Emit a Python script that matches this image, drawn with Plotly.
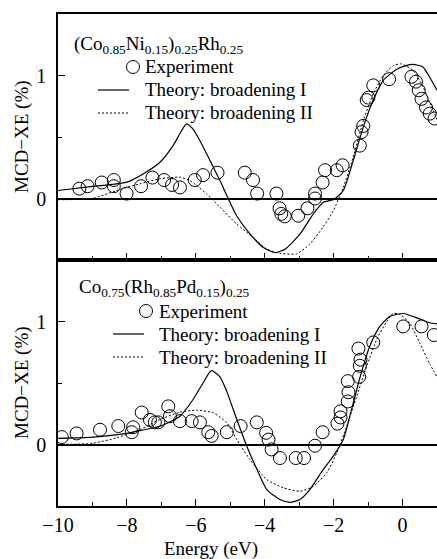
import plotly.graph_objects as go
from plotly.subplots import make_subplots

# ---------------- data ----------------
top_exp_x = [-9.38, -9.14, -8.73, -8.38, -8.38, -8.01, -7.59, -7.26, -6.92, -6.69, -6.46, -6.03, -5.79,
             -5.37, -4.58, -4.34, -4.22, -3.66, -3.57, -3.52, -3.42, -3.03, -2.76, -2.54, -2.54, -2.32,
             -2.25, -1.91, -1.74, -1.24, -1.19, -1.14, -1.04, -0.99, -0.85, -0.39, 0.26, 0.39, 0.47,
             0.55, 0.68, 0.79, 0.93]
top_exp_y = [0.08, 0.10, 0.13, 0.15, 0.10, 0.04, 0.10, 0.17, 0.15, 0.11, 0.09, 0.15, 0.19,
             0.21, 0.21, 0.15, 0.04, 0.04, -0.08, -0.125, -0.145, -0.14, -0.08, 0.00, 0.04, 0.13,
             0.23, 0.23, 0.27, 0.43, 0.54, 0.59, 0.80, 0.82, 0.92, 0.97, 0.99, 0.95, 0.88,
             0.81, 0.74, 0.69, 0.65]

top_th1_x = [-10, -9, -8, -7.53, -7.04, -6.66, -6.41, -6.27, -6.1, -5.88, -5.59, -5.30, -5.06, -4.82,
             -4.43, -4.05, -3.70, -3.40, -2.98, -2.59, -2.30, -2.01, -1.72, -1.43, -1.14, -0.85,
             -0.56, -0.17, 0.10, 0.30, 0.59, 0.78, 1.0]
top_th1_y = [0.065, 0.098, 0.133, 0.20, 0.295, 0.43, 0.553, 0.607, 0.57, 0.47, 0.31, 0.146, 0.0, -0.138,
             -0.287, -0.396, -0.44, -0.41, -0.29, -0.125, -0.03, -0.01, 0.065, 0.31, 0.58, 0.80,
             0.96, 1.05, 1.08, 1.09, 1.07, 0.99, 0.88]

top_th2_x = [-10, -9, -8.3, -7.62, -7.04, -6.46, -6.17, -5.98, -5.69, -5.30, -4.82, -4.34, -3.95,
             -3.57, -3.08, -2.69, -2.30, -2.01, -1.72, -1.43, -1.14, -0.85, -0.56, -0.27, -0.05,
             0.31, 0.60, 0.89, 1.0]
top_th2_y = [-0.01, 0.0, 0.065, 0.12, 0.16, 0.173, 0.146, 0.106, 0.038, -0.07, -0.206, -0.315, -0.41,
             -0.445, -0.45, -0.37, -0.23, -0.10, 0.09, 0.34, 0.63, 0.85, 1.0, 1.08, 1.095,
             1.04, 0.905, 0.715, 0.64]

bot_exp_x = [-9.89, -9.46, -8.78, -8.25, -7.82, -7.86, -7.57, -7.33, -7.19, -7.09, -6.80, -6.75, -6.46,
             -6.12, -5.88, -5.64, -5.54, -5.10, -4.70, -4.23, -3.96, -3.89, -3.80, -3.56, -3.10,
             -2.86, -2.54, -2.32, -1.89, -1.80, -1.80, -1.59, -1.57, -1.59, -1.26, -1.24, -1.22,
             -1.28, -0.85, 0.02, 0.55, 0.91]
bot_exp_y = [0.06, 0.09, 0.12, 0.15, 0.14, 0.10, 0.26, 0.20, 0.18, 0.18, 0.31, 0.23, 0.19,
             0.19, 0.18, 0.10, 0.07, 0.10, 0.15, 0.18, 0.095, 0.04, -0.04, -0.11, -0.11,
             -0.11, -0.01, 0.10, 0.17, 0.22, 0.27, 0.35, 0.425, 0.515, 0.55, 0.64, 0.69,
             0.78, 0.83, 0.96, 0.96, 0.89]

bot_th1_x = [-10, -9, -8, -7.5, -7.04, -6.46, -6.08, -5.79, -5.55, -5.30, -5.10, -4.81, -4.52, -4.23,
             -3.94, -3.56, -3.27, -2.98, -2.69, -2.30, -2.01, -1.72, -1.53, -1.33, -1.14, -0.95,
             -0.66, -0.37, 0.02, 0.50, 0.79, 1.0]
bot_th1_y = [0.05, 0.06, 0.09, 0.12, 0.149, 0.23, 0.366, 0.50, 0.60, 0.55, 0.43, 0.203, -0.014, -0.20,
             -0.366, -0.447, -0.47, -0.447, -0.366, -0.203, -0.095, 0.04, 0.23, 0.447, 0.637, 0.80,
             0.96, 1.04, 1.065, 1.02, 0.99, 0.98]

bot_th2_x = [-10, -9, -8.3, -7.62, -7.04, -6.46, -5.98, -5.50, -5.10, -4.81, -4.43, -3.94, -3.46,
             -2.98, -2.59, -2.20, -1.91, -1.62, -1.33, -1.04, -0.75, -0.46, -0.28, -0.09, 0.20,
             0.49, 0.78, 1.0]
bot_th2_y = [0.0, 0.01, 0.054, 0.122, 0.203, 0.263, 0.279, 0.258, 0.176, 0.04, -0.122, -0.285, -0.352,
             -0.38, -0.34, -0.23, -0.068, 0.149, 0.393, 0.637, 0.854, 1.0, 1.065, 1.06, 0.99,
             0.83, 0.66, 0.55]

series_names = ["Experiment", "Theory: broadening I", "Theory: broadening II"]
top_label = "(Co<sub>0.85</sub>Ni<sub>0.15</sub>)<sub>0.25</sub>Rh<sub>0.25</sub>"
bot_label = "Co<sub>0.75</sub>(Rh<sub>0.85</sub>Pd<sub>0.15</sub>)<sub>0.25</sub>"
y_title = "MCD\u2212XE (%)"
x_title = "Energy (eV)"
x_tick_vals = [-10, -8, -6, -4, -2, 0]
y_tick_vals = [0, 1]

# ---------------- figure ----------------
FONT = "Liberation Serif"
W, H = 437, 559
ML, MR, MT, MB = 58, 0, 14, 53
PW, PH = W - ML - MR, H - MT - MB


def px_x(px):
    return (px - ML) / PW


def px_y(py):
    return (H - MB - py) / PH


fig = make_subplots(rows=2, cols=1, shared_xaxes=True, vertical_spacing=0)

marker_style = dict(symbol="circle-open", size=13, color="black", line=dict(width=1, color="black"))
solid_style = dict(color="black", width=1.2, shape="spline", smoothing=0.6)
dot_style = dict(color="black", width=1, dash="2px,2px", shape="spline", smoothing=0.6)

panels = [
    (1, top_exp_x, top_exp_y, top_th1_x, top_th1_y, top_th2_x, top_th2_y),
    (2, bot_exp_x, bot_exp_y, bot_th1_x, bot_th1_y, bot_th2_x, bot_th2_y),
]
for row, ex, ey, t1x, t1y, t2x, t2y in panels:
    fig.add_trace(go.Scatter(x=ex, y=ey, mode="markers", name=series_names[0],
                             marker=marker_style, showlegend=False), row=row, col=1)
    fig.add_trace(go.Scatter(x=t1x, y=t1y, mode="lines", name=series_names[1],
                             line=solid_style, showlegend=False), row=row, col=1)
    fig.add_trace(go.Scatter(x=t2x, y=t2y, mode="lines", name=series_names[2],
                             line=dot_style, showlegend=False), row=row, col=1)

axis_common = dict(showline=True, linecolor="black", linewidth=1.5, ticks="inside",
                   tickcolor="black", tickwidth=1.2, ticklen=7, showgrid=False,
                   tickfont=dict(family=FONT, size=20, color="black"))

for row in (1, 2):
    fig.update_xaxes(range=[-10, 1.0], tickvals=x_tick_vals, mirror=True,
                     minor=dict(ticks="inside", dtick=1, tick0=0, ticklen=4, tickcolor="black",
                                tickwidth=1.2),
                     showticklabels=(row == 2), ticklabelstandoff=0, zeroline=False,
                     row=row, col=1, **axis_common)
    fig.update_yaxes(range=[-0.5, 1.5], tickvals=y_tick_vals, mirror=False,
                     minor=dict(ticks="inside", dtick=0.5, tick0=0, ticklen=4, tickcolor="black",
                                tickwidth=1.2),
                     zeroline=True, zerolinecolor="black", zerolinewidth=1.5,
                     ticklabelstandoff=6,
                     row=row, col=1, **axis_common)

txt_font = dict(family=FONT, size=19, color="black")
# y-axis titles, one centred on each panel
for yc in (0.75, 0.25):
    fig.add_annotation(text=y_title, xref="paper", yref="paper", x=px_x(22), y=yc,
                       xanchor="center", yanchor="middle", textangle=-90, showarrow=False,
                       font=txt_font)
fig.add_annotation(text=top_label, xref="paper", yref="paper", x=0.036, y=0.937,
                   xanchor="left", yanchor="middle", showarrow=False, font=txt_font)
fig.add_annotation(text=bot_label, xref="paper", yref="paper", x=0.050, y=px_y(288),
                   xanchor="left", yanchor="middle", showarrow=False, font=txt_font)
fig.add_annotation(text=x_title, xref="paper", yref="paper", x=0.404, y=px_y(549),
                   xanchor="center", yanchor="middle", showarrow=False, font=txt_font)

# ---- hand-drawn legends (one per panel), styled like the reference ----
legends = [
    # circle centre x, line x0, line x1, text x, row y's
    (133, 98, 129, 143, [67, 90, 113]),
    (146, 113, 144, 157, [311, 334, 357]),
]
for cx, lx0, lx1, tx, rows_y in legends:
    for name, ry in zip(series_names, rows_y):
        fig.add_annotation(text=name, xref="paper", yref="paper", x=px_x(tx), y=px_y(ry),
                           xanchor="left", yanchor="middle", showarrow=False, font=txt_font)
    fig.add_shape(type="circle", xref="paper", yref="paper", xsizemode="pixel", ysizemode="pixel",
                  xanchor=px_x(cx), yanchor=px_y(rows_y[0]), x0=-6.5, x1=6.5, y0=-6.5, y1=6.5,
                  line=dict(color="black", width=1))
    fig.add_shape(type="line", xref="paper", yref="paper", x0=px_x(lx0), x1=px_x(lx1),
                  y0=px_y(rows_y[1]), y1=px_y(rows_y[1]), line=dict(color="black", width=1.2))
    fig.add_shape(type="line", xref="paper", yref="paper", x0=px_x(lx0), x1=px_x(lx1),
                  y0=px_y(rows_y[2]), y1=px_y(rows_y[2]),
                  line=dict(color="black", width=1, dash="2px,2px"))

fig.update_layout(
    width=W, height=H,
    margin=dict(l=ML, r=MR, t=MT, b=MB),
    paper_bgcolor="white", plot_bgcolor="white",
    font=dict(family=FONT, size=19, color="black"),
    showlegend=False,
)

fig.write_html("out.html")
